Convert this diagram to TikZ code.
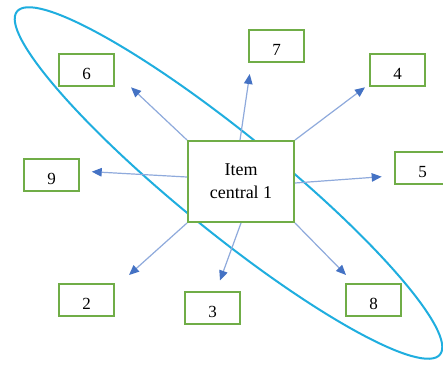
\documentclass[tikz,border=0pt]{standalone}
\usepackage{fontspec}
\setmainfont{Liberation Serif}
\usetikzlibrary{arrows.meta,calc}
\definecolor{boxgreen}{HTML}{70AD47}
\definecolor{ellblue}{HTML}{1FAEDF}
\definecolor{arrline}{HTML}{8FAADC}
\definecolor{arrhead}{HTML}{4472C4}
\tikzset{
  numbox/.style={draw=boxgreen, line width=1.9pt, fill=white, minimum width=55pt, minimum height=32pt, inner sep=0pt, font=\fontsize{17}{20}\selectfont, text height=18.3pt, text depth=0pt},
  centralbox/.style={draw=boxgreen, line width=1.9pt, fill=white, minimum width=106pt, minimum height=81pt, inner sep=0pt, align=center, font=\fontsize{18}{22.7}\selectfont},
  arr/.style={draw=arrline, line width=1.2pt, -{Triangle[length=10pt,width=8.5pt,color=arrhead,fill=arrhead]}},
  ring/.style={draw=ellblue, line width=2pt}
}
\begin{document}
\begin{tikzpicture}[x=1pt,y=-1pt]
\useasboundingbox (0,0) rectangle (443,365);
\clip (0,0) rectangle (443,365);
\fill[white] (0,0) rectangle (443,365);
\draw[ring, rotate around={-39.04:(228.5,183)}] (228.5,183) ellipse [x radius=272.3, y radius=49.3];
\node[centralbox] (c) at (241,181.5) {Item\\central 1};
\node[numbox] (n6) at (86.5,70) {6};
\node[numbox] (n9) at (51.5,175) {9};
\node[numbox] (n7) at (276.5,46) {7};
\node[numbox] (n4) at (397.5,70) {4};
\node[numbox] (n5) at (422.5,168) {5};
\node[numbox] (n2) at (86.5,300) {2};
\node[numbox] (n3) at (212.5,308) {3};
\node[numbox] (n8) at (373.5,300) {8};
\coordinate (t6) at (131,87.3);
\coordinate (t9) at (91.7,171.7);
\coordinate (t7) at (249.7,74);
\coordinate (t4) at (365,87.3);
\coordinate (t5) at (381.7,176.7);
\coordinate (t2) at (129,275);
\coordinate (t3) at (220,280.5);
\coordinate (t8) at (346,275);
\draw[arr] (c.north west) -- (t6);
\draw[arr] ($(c.west)+(0,-4.5)$) -- (t9);
\draw[arr] ($(c.north)+(-1,0)$) -- (t7);
\draw[arr] (c.north east) -- (t4);
\draw[arr] ($(c.east)+(0,1.5)$) -- (t5);
\draw[arr] (c.south west) -- (t2);
\draw[arr] (c.south) -- (t3);
\draw[arr] (c.south east) -- (t8);
\end{tikzpicture}
\end{document}
